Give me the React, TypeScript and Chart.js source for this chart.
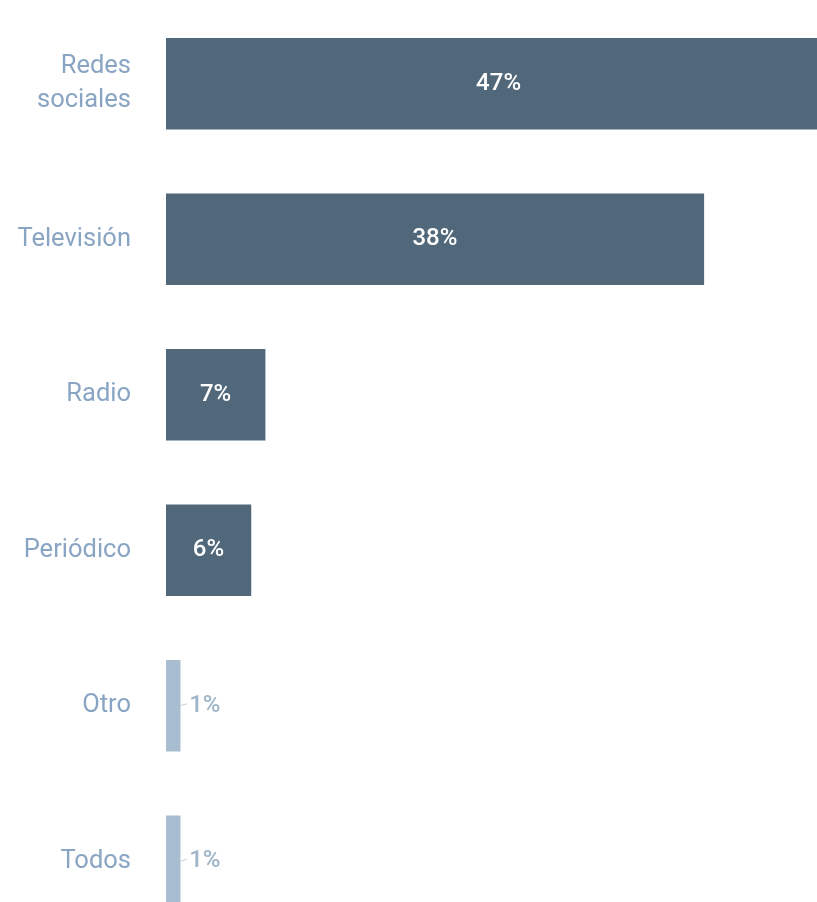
import React, { useEffect, useRef } from "react";
import { Chart, registerables } from "chart.js";

Chart.register(...registerables);

const categories: (string | string[])[] = [
  ["Redes", "sociales"],
  "Televisión",
  "Radio",
  "Periódico",
  "Otro",
  "Todos",
];
const values: number[] = [47, 38, 7, 6, 1, 1];
const valueLabels: string[] = ["47%", "38%", "7%", "6%", "1%", "1%"];

const DARK = "#51687b";
const LIGHT = "#a9bdd0";

const valueLabelPlugin = {
  id: "valueLabels",
  afterDatasetsDraw(chart: any) {
    const ctx = chart.ctx;
    const meta = chart.getDatasetMeta(0);
    ctx.save();
    meta.data.forEach((bar: any, i: number) => {
      const v = values[i];
      const label = valueLabels[i];
      if (v >= 5) {
        ctx.font = "500 24px Roboto";
        ctx.fillStyle = "#ffffff";
        ctx.textAlign = "center";
        ctx.textBaseline = "middle";
        ctx.fillText(label, (bar.x + bar.base) / 2, bar.y);
      } else {
        ctx.strokeStyle = "#c5d1dc";
        ctx.lineWidth = 1;
        ctx.beginPath();
        ctx.moveTo(bar.x, bar.y);
        ctx.lineTo(bar.x + 7, bar.y - 2);
        ctx.stroke();
        ctx.font = "500 24px Roboto";
        ctx.fillStyle = "#9fb5ca";
        ctx.textAlign = "left";
        ctx.textBaseline = "middle";
        ctx.fillText(label, bar.x + 9, bar.y);
      }
    });
    ctx.restore();
  },
};

export default function App() {
  const ref = useRef<HTMLCanvasElement>(null);
  useEffect(() => {
    if (!ref.current) return;
    const chart = new Chart(ref.current, {
      type: "bar",
      data: {
        labels: categories,
        datasets: [
          {
            data: values,
            backgroundColor: values.map((v) => (v >= 5 ? DARK : LIGHT)),
            borderWidth: 0,
            barThickness: 91,
          },
        ],
      },
      options: {
        indexAxis: "y",
        animation: false,
        responsive: false,
        events: [],
        layout: { padding: { top: 6, bottom: 1, left: 0, right: 0 } },
        plugins: {
          legend: { display: false },
          tooltip: { enabled: false },
        },
        scales: {
          x: {
            display: false,
            min: 0,
            max: 46,
          },
          y: {
            grid: { display: false, drawTicks: false },
            border: { display: false },
            afterFit(scale: any) {
              scale.width = 166;
              scale.paddingTop = 0;
              scale.paddingBottom = 0;
            },
            ticks: {
              padding: 35,
              color: "#89a5c3",
              font: { family: "Roboto", size: 25.5, lineHeight: 1.35 },
            },
          },
        },
      },
      plugins: [valueLabelPlugin],
    });
    return () => chart.destroy();
  }, []);
  return (
    <div
      style={{
        position: "fixed",
        left: 0,
        top: 0,
        width: 817,
        height: 902,
        overflow: "hidden",
        background: "#ffffff",
      }}
    >
      <canvas ref={ref} width={817} height={940} />
    </div>
  );
}
